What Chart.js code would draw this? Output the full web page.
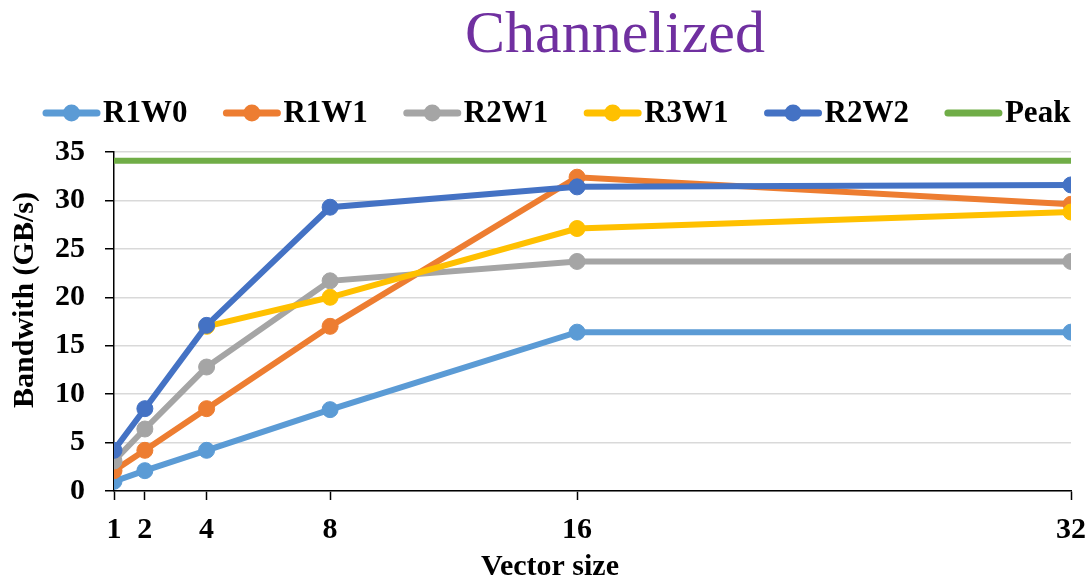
<!DOCTYPE html>
<html>
<head>
<meta charset="utf-8">
<script src="https://cdn.jsdelivr.net/npm/chart.js@4.4.1/dist/chart.umd.min.js"></script>
<style>
  html, body { margin: 0; padding: 0; background: #fff; }
  #wrap { width: 1089px; height: 582px; }
</style>
</head>
<body>
<div id="wrap"><canvas id="myChart" width="1089" height="582"></canvas></div>
<script>
// values
var vector_sizes = [1, 2, 4, 8, 16, 32];
var r1w0 = [1, 2.1, 4.2, 8.4, 16.4, 16.4];
var r1w1 = [2.1, 4.2, 8.5, 17, 32.4, 29.6];
var r2w1 = [3.1, 6.4, 12.8, 21.7, 23.7, 23.7];
var r3w1 = [null, null, 17, 20, 27.1, 28.8];
var r2w2 = [4.2, 8.5, 17.1, 29.3, 31.4, 31.6];
var peak = [34.1, 34.1];
var peak_x = [1, 32];
var y_ticks = [0, 5, 10, 15, 20, 25, 30, 35];

var serif = "'Liberation Serif', 'Times New Roman', serif";

function points(xs, ys) {
    var out = [];
    for (var i = 0; i < xs.length; i++) {
        if (ys[i] !== null) out.push({x: xs[i], y: ys[i]});
    }
    return out;
}

function series(label, xs, ys, color, idx, radius) {
    return {
        label: label,
        data: points(xs, ys),
        borderColor: color,
        backgroundColor: color,
        pointBackgroundColor: color,
        pointBorderColor: color,
        borderWidth: 6,
        pointRadius: radius,
        pointBorderWidth: 1,
        tension: 0,
        order: 10 - idx
    };
}

// titles sit off-center in the original, so they are drawn here; legend too (line + dot)
var extras = {
    id: 'extras',
    afterDraw: function(chart) {
        var ctx = chart.ctx;
        ctx.save();
        ctx.fillStyle = '#7030A0';
        ctx.font = "60px " + serif;
        ctx.textAlign = 'center';
        ctx.textBaseline = 'middle';
        ctx.fillText('Channelized', 615, 36);

        ctx.fillStyle = '#000';
        ctx.font = "bold 30px " + serif;
        ctx.fillText('Vector size', 550, 567);
        ctx.save();
        ctx.translate(25, 300);
        ctx.rotate(-Math.PI / 2);
        ctx.fillText('Bandwith (GB/s)', 0, 0);
        ctx.restore();

        ctx.font = "bold 31px " + serif;
        ctx.textAlign = 'left';
        var x = 43, y = 113;
        chart.data.datasets.forEach(function(ds) {
            ctx.strokeStyle = ds.borderColor;
            ctx.lineWidth = 7;
            ctx.lineCap = 'round';
            ctx.beginPath();
            ctx.moveTo(x + 3, y);
            ctx.lineTo(x + 54, y);
            ctx.stroke();
            if (ds.pointRadius) {
                ctx.fillStyle = ds.borderColor;
                ctx.beginPath();
                ctx.arc(x + 28.5, y, 8.5, 0, Math.PI * 2);
                ctx.fill();
            }
            ctx.fillStyle = '#000';
            ctx.fillText(ds.label, x + 60, y + 1);
            x += 60 + ctx.measureText(ds.label).width + 36;
        });
        ctx.restore();
    }
};

var ctx = document.getElementById('myChart');
var myLineChart = new Chart(ctx, {
    type: 'line',
    data: {
        datasets: [
            series('R1W0', vector_sizes, r1w0, '#5B9BD5', 0, 8),
            series('R1W1', vector_sizes, r1w1, '#ED7D31', 1, 8),
            series('R2W1', vector_sizes, r2w1, '#A5A5A5', 2, 8),
            series('R3W1', vector_sizes, r3w1, '#FFC000', 3, 8),
            series('R2W2', vector_sizes, r2w2, '#4472C4', 4, 8),
            series('Peak', peak_x, peak, '#70AD47', 5, 0)
        ]
    },
    options: {
        responsive: false,
        animation: false,
        layout: { padding: { top: 152, right: 0, left: 35, bottom: 22 } },
        plugins: {
            tooltip: { enabled: false },
            legend: { display: false }
        },
        scales: {
            x: {
                type: 'linear',
                min: 1,
                max: 32,
                afterBuildTicks: function(axis) {
                    axis.ticks = vector_sizes.map(function(v) { return {value: v}; });
                },
                afterFit: function(axis) {
                    axis.paddingRight = 18;
                },
                grid: { drawOnChartArea: false, drawTicks: true, tickLength: 9, tickColor: '#000', tickWidth: 1.5 },
                border: { color: '#000', width: 1.5 },
                ticks: { color: '#000', padding: 12, maxRotation: 0, autoSkip: false,
                         font: { family: serif, size: 30, weight: 'bold' } }
            },
            y: {
                min: 0,
                max: 35,
                afterBuildTicks: function(axis) {
                    axis.ticks = y_ticks.map(function(v) { return {value: v}; });
                },
                grid: { color: '#D9D9D9', lineWidth: 1.5, tickColor: '#000', tickLength: 9, tickWidth: 1.5 },
                border: { color: '#000', width: 1.5 },
                ticks: { color: '#000', padding: 20,
                         font: { family: serif, size: 30, weight: 'bold' } }
            }
        }
    },
    plugins: [extras]
});
</script>
</body>
</html>
